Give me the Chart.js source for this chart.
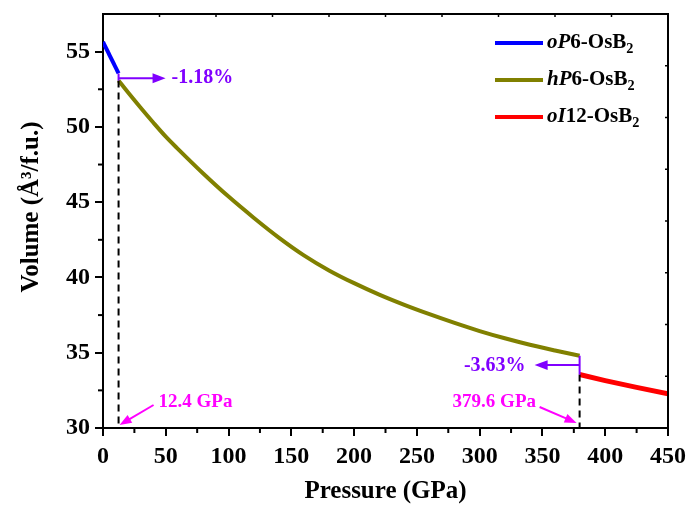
<!DOCTYPE html>
<html>
<head>
<meta charset="utf-8">
<script src="https://cdn.jsdelivr.net/npm/chart.js@4"></script>
<style>
  html, body { margin: 0; padding: 0; background: #fff; }
  #wrap { width: 688px; height: 505px; position: relative; }
</style>
</head>
<body>
<div id="wrap"><canvas id="volChart"></canvas></div>
<script>
// --- data ---
const oP6Pressure = [0, 12.4];
const oP6Volume = [55.65, 53.55];

const hP6Pressure = [12.4, 20, 30, 40, 50, 60, 80, 100, 120, 140, 160, 180, 200, 220, 240, 260, 280, 300, 320, 340, 360, 379.6];
const hP6Volume = [53.08, 52.28, 51.27, 50.29, 49.35, 48.51, 46.89, 45.37, 43.97, 42.65, 41.47, 40.47, 39.62, 38.86, 38.18, 37.56, 36.98, 36.44, 35.96, 35.53, 35.15, 34.8];

const oI12Pressure = [379.6, 400, 425, 450];
const oI12Volume = [33.55, 33.15, 32.7, 32.28];

const transitionPressures = [12.4, 379.6];
const transitionLabels = ['12.4 GPa', '379.6 GPa'];
const volumeDrops = ['-1.18%', '-3.63%'];

const xTicks = [0, 50, 100, 150, 200, 250, 300, 350, 400, 450];
const yTicks = [30, 35, 40, 45, 50, 55];

const SERIF = "'Liberation Serif', 'Times New Roman', serif";
const PURPLE = '#8000ff';
const MAGENTA = '#ff00ff';

function toXY(xs, ys) {
    return xs.map((x, i) => ({ x: x, y: ys[i] }));
}

function arrow(ctx, x1, y1, x2, y2, color, head) {
    const ang = Math.atan2(y2 - y1, x2 - x1);
    ctx.save();
    ctx.strokeStyle = color;
    ctx.fillStyle = color;
    ctx.lineWidth = 2;
    ctx.beginPath();
    ctx.moveTo(x1, y1);
    ctx.lineTo(x2 - Math.cos(ang) * head * 0.8, y2 - Math.sin(ang) * head * 0.8);
    ctx.stroke();
    ctx.beginPath();
    ctx.moveTo(x2, y2);
    ctx.lineTo(x2 - head * Math.cos(ang) + head * 0.38 * Math.sin(ang), y2 - head * Math.sin(ang) - head * 0.38 * Math.cos(ang));
    ctx.lineTo(x2 - head * Math.cos(ang) - head * 0.38 * Math.sin(ang), y2 - head * Math.sin(ang) + head * 0.38 * Math.cos(ang));
    ctx.closePath();
    ctx.fill();
    ctx.restore();
}

// rich text: parts = [text, italic, subscript]
function richText(ctx, parts, x, y, size) {
    let cx = x;
    parts.forEach(p => {
        const sz = p[2] ? size * 0.68 : size;
        ctx.font = (p[1] ? 'italic ' : '') + 'bold ' + sz + 'px ' + SERIF;
        ctx.fillText(p[0], cx, p[2] ? y + size * 0.32 : y);
        cx += ctx.measureText(p[0]).width;
    });
}

const legendItems = [
    { color: '#0000ff', parts: [['oP', true], ['6-OsB'], ['2', false, true]] },
    { color: '#808000', parts: [['hP', true], ['6-OsB'], ['2', false, true]] },
    { color: '#ff0000', parts: [['oI', true], ['12-OsB'], ['2', false, true]] }
];

const decorPlugin = {
    id: 'decor',
    afterDraw(chart) {
        const ctx = chart.ctx;
        const xs = chart.scales.x, ys = chart.scales.y;
        const a = chart.chartArea;
        ctx.save();

        // top and right frame
        ctx.strokeStyle = '#000';
        ctx.lineWidth = 2;
        ctx.beginPath();
        ctx.moveTo(a.left, a.top);
        ctx.lineTo(a.right, a.top);
        ctx.lineTo(a.right, a.bottom);
        ctx.stroke();

        // minor ticks (outward) on bottom and left
        for (let v = 25; v < 450; v += 50) {
            const px = xs.getPixelForValue(v);
            ctx.beginPath(); ctx.moveTo(px, a.bottom); ctx.lineTo(px, a.bottom + 5); ctx.stroke();
        }
        for (let v = 32.5; v < 57; v += 5) {
            const py = ys.getPixelForValue(v);
            ctx.beginPath(); ctx.moveTo(a.left, py); ctx.lineTo(a.left - 5, py); ctx.stroke();
        }
        // small inward ticks on top and right
        ctx.lineWidth = 1.5;
        for (let k = 1; k < 10; k++) {
            const px = a.left + (a.right - a.left) * k / 10;
            ctx.beginPath(); ctx.moveTo(px, a.top); ctx.lineTo(px, a.top + 3); ctx.stroke();
        }
        for (let k = 1; k < 8; k++) {
            const py = a.top + (a.bottom - a.top) * k / 8;
            ctx.beginPath(); ctx.moveTo(a.right, py); ctx.lineTo(a.right - 3, py); ctx.stroke();
        }

        // dashed transition lines
        ctx.strokeStyle = '#000';
        ctx.lineWidth = 2;
        ctx.setLineDash([7, 5]);
        const tx1 = xs.getPixelForValue(transitionPressures[0]);
        const tx2 = xs.getPixelForValue(transitionPressures[1]);
        ctx.beginPath();
        ctx.moveTo(tx1, ys.getPixelForValue(hP6Volume[0]));
        ctx.lineTo(tx1, a.bottom);
        ctx.moveTo(tx2, ys.getPixelForValue(oI12Volume[0]));
        ctx.lineTo(tx2, a.bottom);
        ctx.stroke();
        ctx.setLineDash([]);

        // purple volume jumps
        ctx.strokeStyle = PURPLE;
        ctx.lineWidth = 2;
        ctx.beginPath();
        ctx.moveTo(tx1, ys.getPixelForValue(oP6Volume[1]));
        ctx.lineTo(tx1, ys.getPixelForValue(hP6Volume[0]));
        ctx.moveTo(tx2, ys.getPixelForValue(hP6Volume[hP6Volume.length - 1]));
        ctx.lineTo(tx2, ys.getPixelForValue(oI12Volume[0]));
        ctx.stroke();

        const ay1 = ys.getPixelForValue(53.23);
        arrow(ctx, tx1, ay1, tx1 + 47, ay1, PURPLE, 13);
        const ay2 = ys.getPixelForValue(34.18);
        arrow(ctx, tx2, ay2, tx2 - 45, ay2, PURPLE, 13);

        ctx.fillStyle = PURPLE;
        ctx.font = 'bold 20px ' + SERIF;
        ctx.textBaseline = 'middle';
        ctx.textAlign = 'left';
        ctx.fillText(volumeDrops[0], tx1 + 53, ay1);
        ctx.textAlign = 'right';
        ctx.fillText(volumeDrops[1], tx2 - 54, ay2 + 1);

        // pressure labels
        ctx.fillStyle = MAGENTA;
        ctx.font = 'bold 19px ' + SERIF;
        ctx.textAlign = 'left';
        ctx.fillText(transitionLabels[0], tx1 + 40, 402);
        arrow(ctx, tx1 + 35, 405, tx1 + 1, a.bottom - 3, MAGENTA, 12);
        ctx.fillText(transitionLabels[1], tx2 - 127, 402);
        arrow(ctx, tx2 - 40, 407, tx2 - 3, a.bottom - 5, MAGENTA, 12);

        // legend
        ctx.textAlign = 'left';
        ctx.textBaseline = 'middle';
        legendItems.forEach((it, i) => {
            const ly = 43 + i * 37;
            ctx.strokeStyle = it.color;
            ctx.lineWidth = 4;
            ctx.beginPath(); ctx.moveTo(495, ly); ctx.lineTo(543, ly); ctx.stroke();
            ctx.fillStyle = '#000';
            richText(ctx, it.parts, 547, ly, 21);
        });

        // axis titles
        ctx.fillStyle = '#000';
        ctx.font = 'bold 25px ' + SERIF;
        ctx.textAlign = 'center';
        ctx.fillText('Pressure (GPa)', (a.left + a.right) / 2, 492);
        ctx.translate(32, 207);
        ctx.rotate(-Math.PI / 2);
        ctx.fillText('Volume (Å³/f.u.)', 0, 0);

        ctx.restore();
    }
};

// keep the plot frame fixed; tick labels may overhang the edges
function noPad(s) {
    s.paddingLeft = 0;
    s.paddingRight = 0;
    s.paddingTop = 0;
    s.paddingBottom = 0;
}

const lineStyle = {
    showLine: true,
    pointRadius: 0,
    fill: false
};

new Chart(document.getElementById('volChart'), {
    type: 'scatter',
    data: {
        datasets: [
            Object.assign({ label: 'oP6-OsB2', data: toXY(oP6Pressure, oP6Volume), borderColor: '#0000ff', borderWidth: 4 }, lineStyle),
            Object.assign({ label: 'hP6-OsB2', data: toXY(hP6Pressure, hP6Volume), borderColor: '#808000', borderWidth: 4, cubicInterpolationMode: 'monotone' }, lineStyle),
            Object.assign({ label: 'oI12-OsB2', data: toXY(oI12Pressure, oI12Volume), borderColor: '#ff0000', borderWidth: 5 }, lineStyle)
        ]
    },
    options: {
        responsive: true,
        maintainAspectRatio: false,
        animation: false,
        layout: { padding: { top: 14, right: 20, left: 0, bottom: 0 } },
        plugins: {
            legend: { display: false },
            tooltip: { enabled: false }
        },
        scales: {
            x: {
                type: 'linear',
                min: 0,
                max: 450,
                afterFit: s => { s.height = 77; noPad(s); },
                afterBuildTicks: s => { s.ticks = xTicks.map(v => ({ value: v })); },
                grid: { drawOnChartArea: false, drawTicks: true, tickLength: 8, color: '#000', lineWidth: 2 },
                border: { display: true, color: '#000', width: 2 },
                ticks: { color: '#000', padding: 6, maxRotation: 0, font: { family: SERIF, size: 24, weight: 'bold' } }
            },
            y: {
                type: 'linear',
                min: 30,
                max: 57.5,
                afterFit: s => { s.width = 103; noPad(s); },
                afterBuildTicks: s => { s.ticks = yTicks.map(v => ({ value: v })); },
                grid: { drawOnChartArea: false, drawTicks: true, tickLength: 8, color: '#000', lineWidth: 2 },
                border: { display: true, color: '#000', width: 2 },
                ticks: { color: '#000', padding: 5, font: { family: SERIF, size: 24, weight: 'bold' } }
            }
        }
    },
    plugins: [decorPlugin]
});
</script>
</body>
</html>
